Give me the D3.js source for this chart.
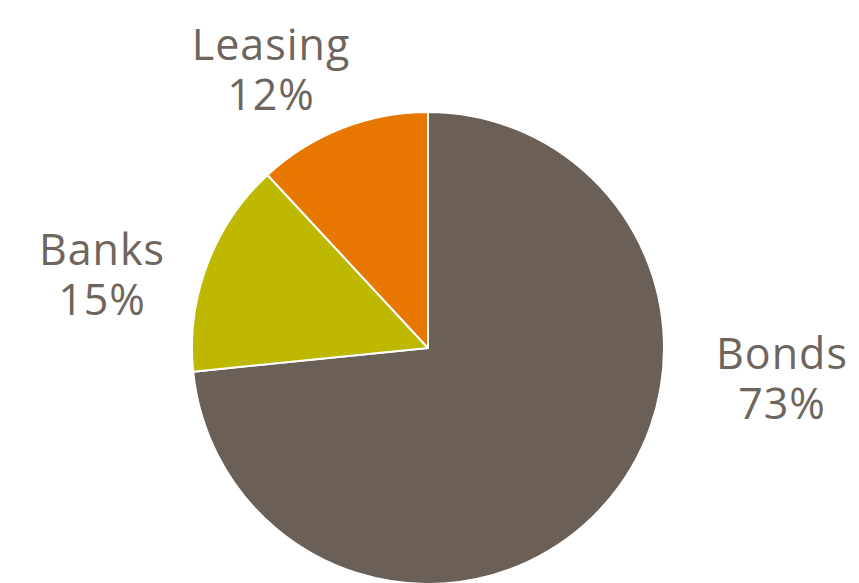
<!DOCTYPE html>
<html lang="en">
<head>
<meta charset="UTF-8">
<script src="https://d3js.org/d3.v7.min.js"></script>
<style>
  body { margin: 0; background: #fff; }
  text { font-family: "Open Sans", "Noto Sans", sans-serif; }
</style>
</head>
<body>
<div id="chart"></div>
<script>
const categories = ["Bonds", "Banks", "Leasing"];
const shares = [73.4, 14.7, 11.9];
const colors = ["#6b6058", "#bfb800", "#e87700"];

// label anchor positions (centre of the two-line label), Excel "best fit" style
const labelPos = [[782, 378], [102, 274], [271, 69]];

const width = 859, height = 583;
const cx = 428, cy = 348, radius = 236;

const svg = d3.select("#chart").append("svg")
  .attr("width", width)
  .attr("height", height);

const pie = d3.pie().sort(null).value(d => d.value);
const arc = d3.arc().innerRadius(0).outerRadius(radius);

const data = categories.map((c, i) => ({ name: c, value: shares[i], color: colors[i] }));

const g = svg.append("g").attr("transform", `translate(${cx},${cy})`);

g.selectAll("path")
  .data(pie(data))
  .enter().append("path")
  .attr("d", arc)
  .attr("fill", d => d.data.color)
  .attr("stroke", "#fff")
  .attr("stroke-width", 2)
  .attr("stroke-linejoin", "round");

// two text lines per slice: name, then rounded percentage
const labels = svg.selectAll(".label")
  .data(data)
  .enter().append("g")
  .attr("class", "label")
  .attr("transform", (d, i) => `translate(${labelPos[i][0]},${labelPos[i][1]})`);

labels.append("text")
  .attr("text-anchor", "middle")
  .attr("font-size", 43)
  .attr("letter-spacing", 1)
  .attr("fill", "#6e655d")
  .attr("y", -9)
  .text(d => d.name);

labels.append("text")
  .attr("text-anchor", "middle")
  .attr("font-size", 43)
  .attr("letter-spacing", 1)
  .attr("fill", "#6e655d")
  .attr("y", 41)
  .text(d => Math.round(d.value) + "%");
</script>
</body>
</html>
